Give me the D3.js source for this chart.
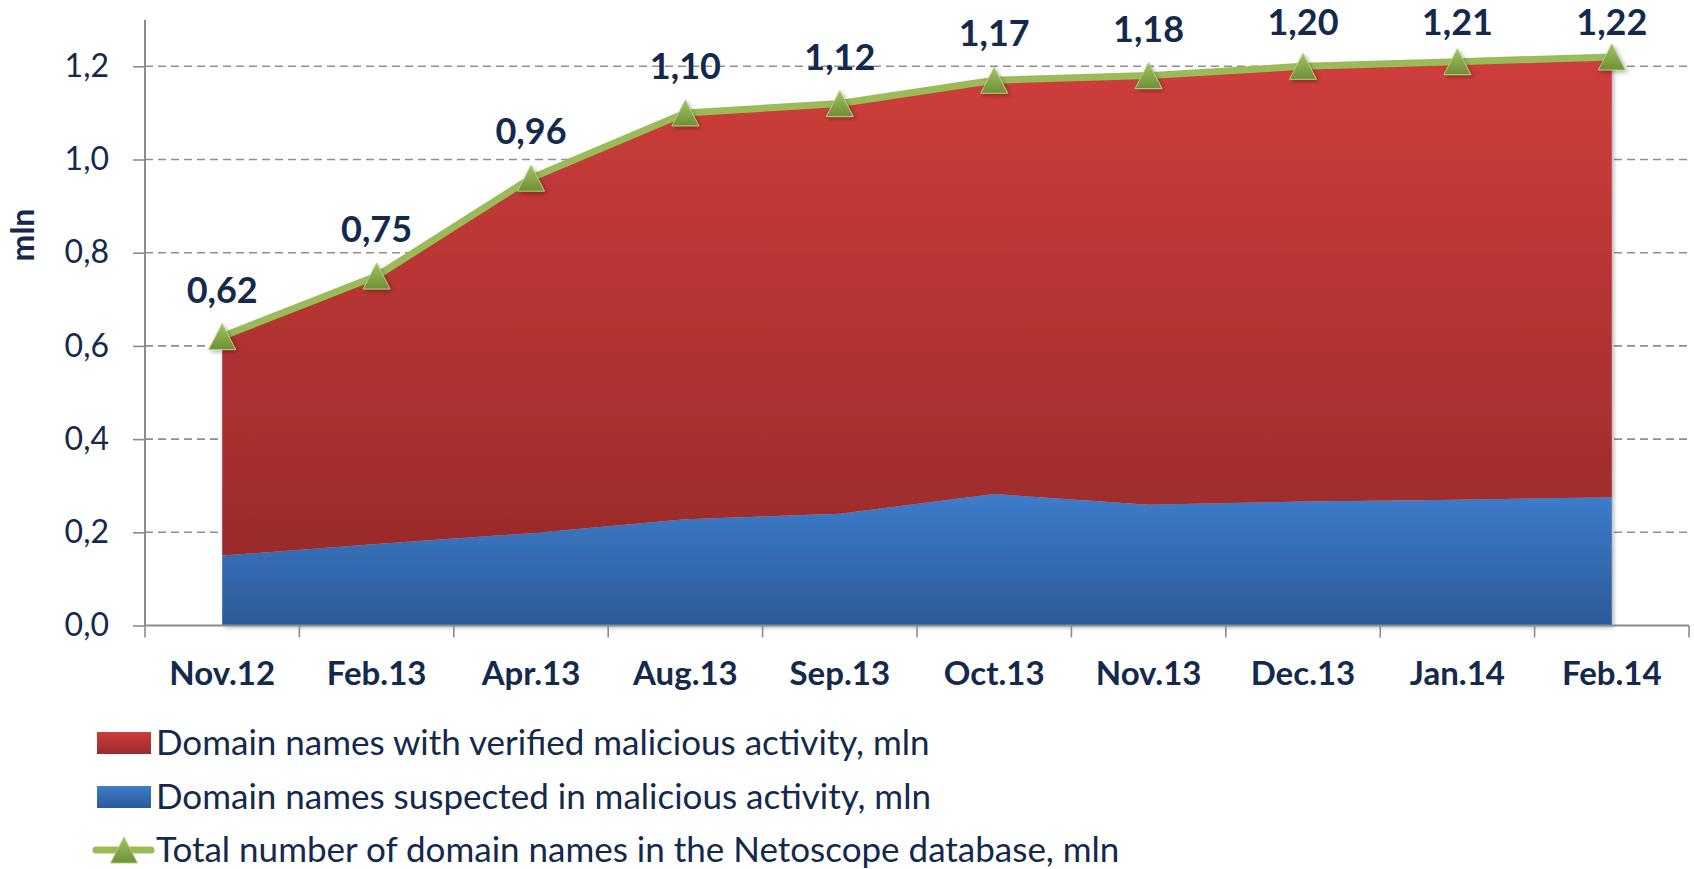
<!DOCTYPE html>
<html>
<head>
<meta charset="utf-8">
<script src="https://cdn.jsdelivr.net/npm/d3@7"></script>
<style>
  body { margin: 0; background: #fff; }
  svg { display: block; font-family: Lato, "Open Sans", sans-serif; }
</style>
</head>
<body>
<script>
// chart data
const categories = ["Nov.12", "Feb.13", "Apr.13", "Aug.13", "Sep.13", "Oct.13", "Nov.13", "Dec.13", "Jan.14", "Feb.14"];
const suspected = [0.15, 0.175, 0.198, 0.228, 0.24, 0.282, 0.259, 0.266, 0.27, 0.275];
const verified = [0.47, 0.575, 0.762, 0.872, 0.88, 0.888, 0.921, 0.934, 0.94, 0.945];
const total = [0.62, 0.75, 0.96, 1.10, 1.12, 1.17, 1.18, 1.20, 1.21, 1.22];
const yTicks = [0, 0.2, 0.4, 0.6, 0.8, 1.0, 1.2];
const legendLabels = [
  "Domain names with verified malicious activity, mln",
  "Domain names suspected in malicious activity, mln",
  "Total number of domain names in the Netoscope database, mln"
];

const width = 1694;
const height = 869;
const textColor = "#14294b";

const locale = d3.formatLocale({decimal: ",", thousands: " ", grouping: [3], currency: ["", ""]});
const fmtTick = locale.format(".1f");
const fmtLabel = locale.format(".2f");

const svg = d3.select("body").append("svg")
    .attr("width", width)
    .attr("height", height);

const defs = svg.append("defs");

function vGradient(id, top, bottom) {
  const g = defs.append("linearGradient")
      .attr("id", id)
      .attr("x1", 0).attr("y1", 0).attr("x2", 0).attr("y2", 1);
  g.append("stop").attr("offset", "0%").attr("stop-color", top);
  g.append("stop").attr("offset", "100%").attr("stop-color", bottom);
}
vGradient("redGrad", "#ce3e3b", "#9a2b2b");
vGradient("blueGrad", "#3d7ccb", "#2c5a98");
vGradient("triGrad", "#a2c463", "#6f8e35");

const shadow = defs.append("filter").attr("id", "shadow")
    .attr("x", "-10%").attr("y", "-10%").attr("width", "130%").attr("height", "130%");
shadow.append("feDropShadow")
    .attr("dx", 2).attr("dy", 2).attr("stdDeviation", 2)
    .attr("flood-color", "#000").attr("flood-opacity", 0.3);

// scales
const x = d3.scaleBand().domain(categories).range([145, 1689]);
const cx = c => x(c) + x.bandwidth() / 2;
const y = d3.scaleLinear().domain([0, 1.3]).range([625.5, 19.7]);

// gridlines
svg.append("g")
  .selectAll("line")
  .data(yTicks.slice(1))
  .join("line")
    .attr("x1", x.range()[0])
    .attr("x2", x.range()[1])
    .attr("y1", d => y(d))
    .attr("y2", d => y(d))
    .attr("stroke", "#8f8f8f")
    .attr("stroke-width", 1.6)
    .attr("stroke-dasharray", "8,5");

// stacked areas
const rows = categories.map((c, i) => ({cat: c, suspected: suspected[i], verified: verified[i]}));
const series = d3.stack().keys(["suspected", "verified"])(rows);

const area = d3.area()
    .x(d => cx(d.data.cat))
    .y0(d => y(d[0]))
    .y1(d => y(d[1]));

svg.append("g")
    .attr("filter", "url(#shadow)")
  .selectAll("path")
  .data(series)
  .join("path")
    .attr("fill", d => d.key === "suspected" ? "url(#blueGrad)" : "url(#redGrad)")
    .attr("d", area);

// y axis
const yAxis = svg.append("g")
    .attr("transform", `translate(${x.range()[0]},0)`)
    .call(d3.axisLeft(y).tickValues(yTicks).tickFormat(fmtTick).tickSize(12).tickPadding(24));
yAxis.select(".domain").attr("stroke", "#8c8c8c").attr("stroke-width", 2)
    .attr("d", `M0,${y(0)}V${y(1.3)}`);
yAxis.selectAll(".tick line").attr("stroke", "#8c8c8c").attr("stroke-width", 1.6);
yAxis.selectAll(".tick text")
    .attr("fill", textColor)
    .attr("font-size", 32)
    .attr("font-family", "Lato");

// x axis: labels at band centres, ticks on band edges
const xAxis = svg.append("g")
    .attr("transform", `translate(0,${y(0)})`)
    .call(d3.axisBottom(x).tickSize(0).tickPadding(0));
xAxis.select(".domain").attr("stroke", "#8c8c8c").attr("stroke-width", 2)
    .attr("d", `M${x.range()[0]},0H${x.range()[1]}`);
xAxis.selectAll(".tick text")
    .attr("y", 59)
    .attr("dy", 0)
    .attr("fill", textColor)
    .attr("font-size", 33)
    .attr("font-weight", "bold")
    .attr("font-family", "Lato");
xAxis.selectAll(".edge")
  .data(categories.map(c => x(c)).concat(x.range()[1]))
  .join("line")
    .attr("class", "edge")
    .attr("x1", d => d).attr("x2", d => d)
    .attr("y1", 0).attr("y2", 12)
    .attr("stroke", "#8c8c8c")
    .attr("stroke-width", 1.6);

// y axis title
svg.append("text")
    .attr("transform", "translate(34,235) rotate(-90)")
    .attr("text-anchor", "middle")
    .attr("fill", textColor)
    .attr("font-size", 32)
    .attr("font-weight", "bold")
    .text("mln");

// total line
const line = d3.line()
    .x((d, i) => cx(categories[i]))
    .y(d => y(d));

svg.append("path")
    .datum(total)
    .attr("fill", "none")
    .attr("stroke", "#9bbb59")
    .attr("stroke-width", 7)
    .attr("stroke-linejoin", "round")
    .attr("d", line);

const triPath = "M0,-13L13.5,13L-13.5,13Z";

svg.append("g")
  .selectAll("path")
  .data(total)
  .join("path")
    .attr("transform", (d, i) => `translate(${cx(categories[i])},${y(d)})`)
    .attr("d", triPath)
    .attr("fill", "url(#triGrad)")
    .attr("stroke", "#b3cf7c")
    .attr("stroke-width", 1)
    .attr("filter", "url(#shadow)");

// data labels, kept inside the top of the chart
svg.append("g")
  .selectAll("text")
  .data(total)
  .join("text")
    .attr("x", (d, i) => cx(categories[i]))
    .attr("y", d => Math.max(y(d) - 34, 35))
    .attr("text-anchor", "middle")
    .attr("fill", textColor)
    .attr("font-size", 36)
    .attr("font-weight", "bold")
    .text(d => fmtLabel(d));

// legend
const legend = svg.append("g");
const rowY = [743, 797, 850];

legend.append("rect")
    .attr("x", 97).attr("y", rowY[0] - 11)
    .attr("width", 54).attr("height", 22)
    .attr("fill", "url(#redGrad)");
legend.append("rect")
    .attr("x", 97).attr("y", rowY[1] - 11)
    .attr("width", 54).attr("height", 22)
    .attr("fill", "url(#blueGrad)");
legend.append("line")
    .attr("x1", 96).attr("x2", 151)
    .attr("y1", rowY[2]).attr("y2", rowY[2])
    .attr("stroke", "#9bbb59")
    .attr("stroke-width", 7)
    .attr("stroke-linecap", "round");
legend.append("path")
    .attr("transform", `translate(124,${rowY[2]})`)
    .attr("d", triPath)
    .attr("fill", "url(#triGrad)")
    .attr("stroke", "#b3cf7c")
    .attr("stroke-width", 1);

legend.selectAll("text")
  .data(legendLabels)
  .join("text")
    .attr("x", 156)
    .attr("y", (d, i) => rowY[i])
    .attr("dy", "0.35em")
    .attr("fill", textColor)
    .attr("font-size", 35)
    .text(d => d);
</script>
</body>
</html>
